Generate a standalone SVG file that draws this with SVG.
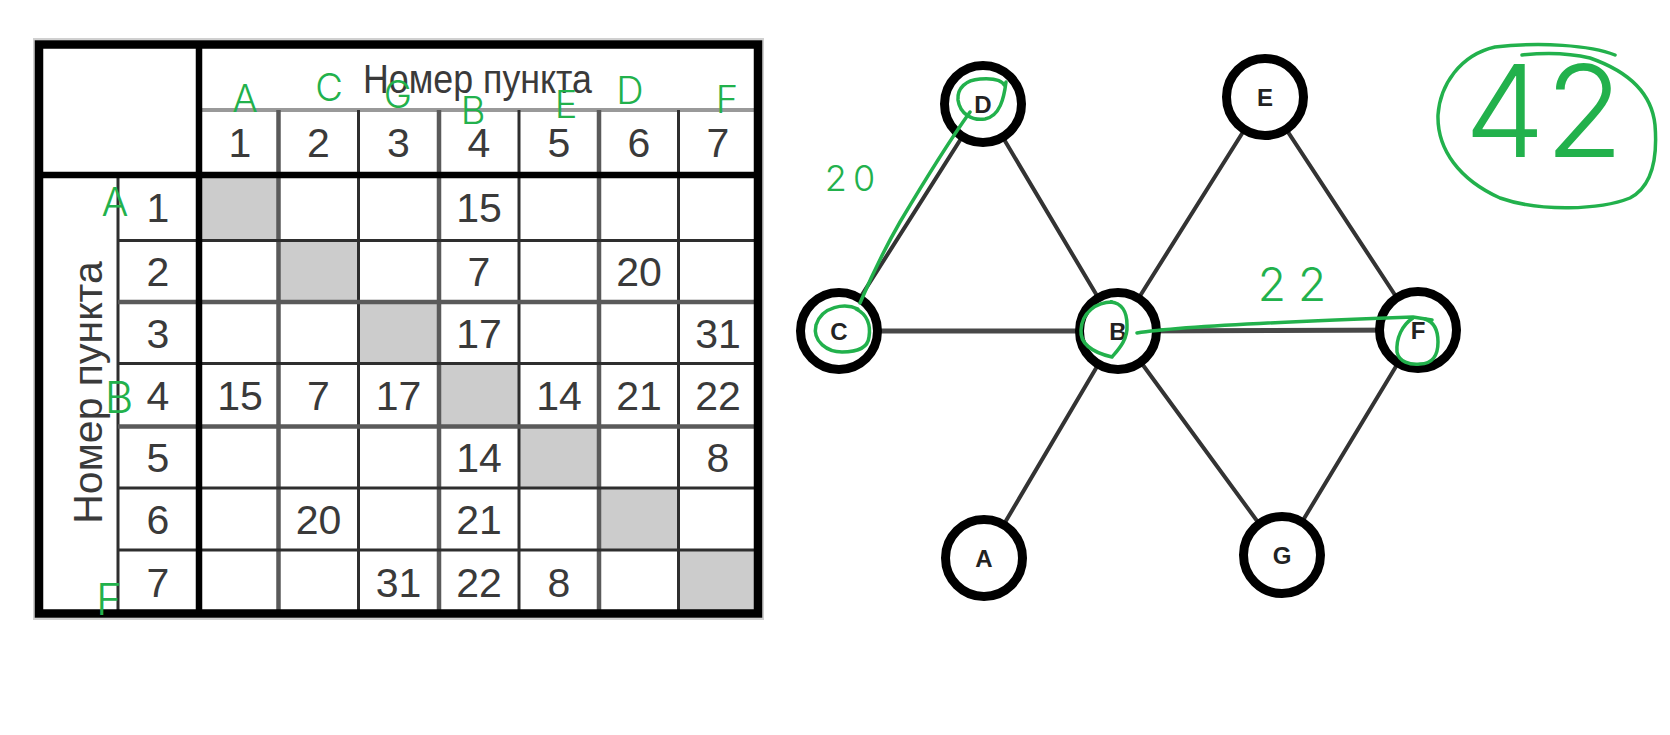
<svg xmlns="http://www.w3.org/2000/svg" width="1670" height="735" viewBox="0 0 1670 735">
  <style>
    .cell { font-family: "Liberation Sans", Arial, sans-serif; font-size: 41px; fill: #3a3a3a; text-anchor: middle; }
    .thin { stroke: #2e2e2e; stroke-width: 3; }
    .soft { stroke: #5a5a5a; stroke-width: 4.5; }
    .thick { stroke: #000; stroke-width: 6.5; }
    .diag { fill: #cccccc; }
    .edge { stroke: #333; stroke-width: 4; stroke-linecap: round; }
    .edge-h { stroke: #484848; stroke-width: 5; }
    .node circle { fill: #fff; stroke: #000; stroke-width: 9; }
    .node text { font-family: "Liberation Sans", Arial, sans-serif; font-size: 24px; font-weight: bold; fill: #222; text-anchor: middle; }
    .pen { fill: none; stroke: #22b14c; stroke-width: 3.5; stroke-linecap: round; stroke-linejoin: round; }
    .hand { font-family: "Inter", "Noto Sans", "DejaVu Sans", sans-serif; font-weight: 300; fill: #22b14c; text-anchor: middle; }
  </style>

  <rect width="1670" height="735" fill="#fff"/>

  <!-- distance table -->
  <g id="table">
    <!-- diagonal cells -->
    <rect class="diag" x="199" y="175" width="79.5" height="65.5"/>
    <rect class="diag" x="278.5" y="240.5" width="80" height="61.5"/>
    <rect class="diag" x="358.5" y="302" width="80.5" height="61.5"/>
    <rect class="diag" x="439" y="363.5" width="80" height="63"/>
    <rect class="diag" x="519" y="426.5" width="80" height="61.5"/>
    <rect class="diag" x="599" y="488" width="79.5" height="62"/>
    <rect class="diag" x="678.5" y="550" width="79" height="63.5"/>

    <!-- header separator under the title -->
    <line x1="202" y1="110" x2="754" y2="110" stroke="#999" stroke-width="4"/>

    <!-- column lines -->
    <line class="soft" x1="278.5" y1="110" x2="278.5" y2="613"/>
    <line class="thin" x1="358.5" y1="110" x2="358.5" y2="613"/>
    <line class="soft" x1="439" y1="110" x2="439" y2="613"/>
    <line class="thin" x1="519" y1="110" x2="519" y2="613"/>
    <line class="soft" x1="599" y1="110" x2="599" y2="613"/>
    <line class="thin" x1="678.5" y1="110" x2="678.5" y2="613"/>

    <!-- row-number column edge -->
    <line class="thin" x1="118" y1="175" x2="118" y2="613"/>

    <!-- row lines -->
    <line class="thin" x1="118" y1="240.5" x2="758" y2="240.5"/>
    <line class="soft" x1="118" y1="302" x2="758" y2="302"/>
    <line class="thin" x1="118" y1="363.5" x2="758" y2="363.5"/>
    <line class="soft" x1="118" y1="426.5" x2="758" y2="426.5"/>
    <line class="thin" x1="118" y1="488" x2="758" y2="488"/>
    <line class="thin" x1="118" y1="550" x2="758" y2="550"/>

    <!-- heavy frame -->
    <line class="thick" x1="199" y1="44" x2="199" y2="614"/>
    <line class="thick" x1="39" y1="175" x2="758" y2="175"/>
    <rect x="34" y="39" width="729" height="580" fill="none" stroke="#d0d0d0" stroke-width="2"/>
    <rect x="39" y="44.5" width="719" height="569" fill="none" stroke="#000" stroke-width="8.5"/>

    <!-- titles -->
    <text class="cell" x="477.5" y="93" textLength="229" lengthAdjust="spacingAndGlyphs">Номер пункта</text>
    <text class="cell" transform="translate(102 392.5) rotate(-90)" x="0" y="0">Номер пункта</text>

    <!-- column numbers -->
    <text class="cell" x="240" y="157">1</text>
    <text class="cell" x="318.5" y="157">2</text>
    <text class="cell" x="398.5" y="157">3</text>
    <text class="cell" x="479" y="157">4</text>
    <text class="cell" x="559" y="157">5</text>
    <text class="cell" x="639" y="157">6</text>
    <text class="cell" x="718" y="157">7</text>

    <!-- row numbers -->
    <text class="cell" x="158" y="222">1</text>
    <text class="cell" x="158" y="286">2</text>
    <text class="cell" x="158" y="348">3</text>
    <text class="cell" x="158" y="410">4</text>
    <text class="cell" x="158" y="472">5</text>
    <text class="cell" x="158" y="534">6</text>
    <text class="cell" x="158" y="597">7</text>

    <!-- distances -->
    <text class="cell" x="479" y="222">15</text>
    <text class="cell" x="479" y="286">7</text>
    <text class="cell" x="639" y="286">20</text>
    <text class="cell" x="479" y="348">17</text>
    <text class="cell" x="718" y="348">31</text>
    <text class="cell" x="240" y="410">15</text>
    <text class="cell" x="318.5" y="410">7</text>
    <text class="cell" x="398.5" y="410">17</text>
    <text class="cell" x="559" y="410">14</text>
    <text class="cell" x="639" y="410">21</text>
    <text class="cell" x="718" y="410">22</text>
    <text class="cell" x="479" y="472">14</text>
    <text class="cell" x="718" y="472">8</text>
    <text class="cell" x="318.5" y="534">20</text>
    <text class="cell" x="479" y="534">21</text>
    <text class="cell" x="398.5" y="597">31</text>
    <text class="cell" x="479" y="597">22</text>
    <text class="cell" x="559" y="597">8</text>
  </g>

  <!-- road graph -->
  <g id="connectors">
    <line class="edge" x1="983" y1="104" x2="839" y2="331"/>
    <line class="edge" x1="983" y1="104" x2="1118" y2="331"/>
    <line class="edge" x1="1265" y1="97" x2="1118" y2="331"/>
    <line class="edge" x1="1265" y1="97" x2="1418" y2="330"/>
    <line class="edge-h" x1="839" y1="331" x2="1118" y2="331"/>
    <line class="edge-h" x1="1118" y1="331" x2="1418" y2="330"/>
    <line class="edge" x1="1118" y1="331" x2="984" y2="558"/>
    <line class="edge" x1="1118" y1="331" x2="1282" y2="555"/>
    <line class="edge" x1="1418" y1="330" x2="1282" y2="555"/>
  </g>

  <g id="node-D" class="node"><circle cx="983" cy="104" r="38.5"/><text x="983" y="112.5">D</text></g>
  <g id="node-E" class="node"><circle cx="1265" cy="97" r="38.5"/><text x="1265" y="105.5">E</text></g>
  <g id="node-C" class="node"><circle cx="839" cy="331" r="38.5"/><text x="839" y="339.5">C</text></g>
  <g id="node-B" class="node"><circle cx="1118" cy="331" r="38.5"/><text x="1118" y="339.5">B</text></g>
  <g id="node-F" class="node"><circle cx="1418" cy="330" r="38.5"/><text x="1418" y="338.5">F</text></g>
  <g id="node-A" class="node"><circle cx="984" cy="558" r="38.5"/><text x="984" y="566.5">A</text></g>
  <g id="node-G" class="node"><circle cx="1282" cy="555" r="38.5"/><text x="1282" y="563.5">G</text></g>

  <!-- pen marks -->
  <g id="annotations">
    <text class="hand" x="245" y="112" font-size="38">A</text>
    <text class="hand" x="329" y="101" font-size="38">C</text>
    <text class="hand" x="398" y="108" font-size="38">G</text>
    <text class="hand" x="473" y="124" font-size="38">B</text>
    <text class="hand" x="566" y="118" font-size="38">E</text>
    <text class="hand" x="630" y="104" font-size="38">D</text>
    <text class="hand" x="727" y="113" font-size="38">F</text>
    <text class="hand" x="115" y="216" font-size="40">A</text>
    <text class="hand" x="119" y="413" font-size="44">B</text>
    <text class="hand" x="109" y="615" font-size="44">F</text>

    <path class="pen" d="M1006,82 C1004,98 1000,116 985,119 C972,121 960,114 958,100 C957,88 966,80 980,79 C992,78 1002,80 1005,86"/>
    <path class="pen" d="M970,112 C950,140 925,180 900,222 C885,248 872,275 860,303"/>
    <path class="pen" d="M858,309 C845,303 822,306 816,325 C812,342 828,352 842,352 C858,352 868,347 869,337 C871,325 867,314 856,309"/>
    <path class="pen" d="M1112,302 C1097,302 1082,312 1081,330 C1080,345 1095,353 1112,357 C1118,350 1128,340 1127,325 C1127,311 1121,303 1111,302"/>
    <path class="pen" d="M1137,333 C1180,326 1300,321 1413,317 L1432,320"/>
    <path class="pen" d="M1413,318 C1402,325 1396,338 1397,352 C1399,362 1410,365 1420,364 C1432,364 1438,356 1438,342 C1438,330 1434,322 1425,319"/>
    <text class="hand" x="853" y="191" font-size="36" letter-spacing="6">20</text>
    <text class="hand" x="1298" y="301" font-size="46" letter-spacing="12">22</text>

    <path class="pen" d="M1615,55 C1590,45 1540,42 1495,47 C1460,55 1440,85 1438,115 C1437,150 1460,180 1500,198 C1540,212 1600,210 1630,198 C1655,185 1657,150 1655,125 C1652,95 1630,72 1590,58 C1565,52 1540,53 1522,55"/>
    <text class="hand" x="1544" y="157" font-size="128" font-weight="100">42</text>
  </g>
</svg>
